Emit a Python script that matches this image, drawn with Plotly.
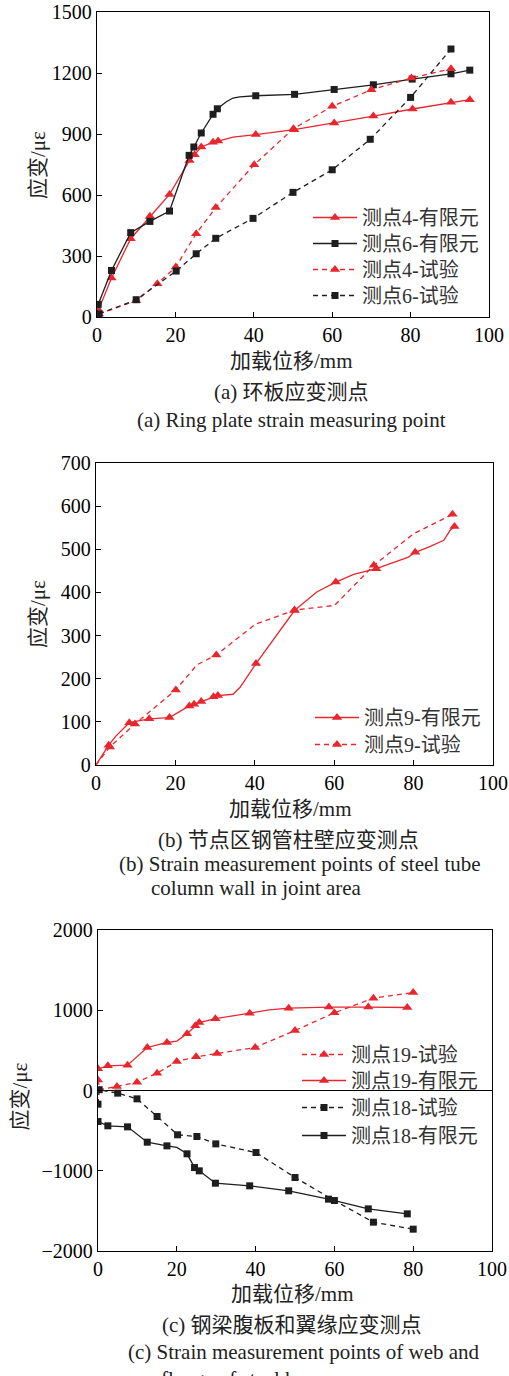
import plotly.graph_objects as go

W, H = 509, 1376
OFF = 0  # body margin is removed by the post script below
RED = "#e8262d"
BLK = "#1e1e1e"
FONT = "Liberation Serif, Noto Sans CJK SC"

# ---------------- Panel (a): ring plate ----------------
a_fe4_x = [0.4, 3.7, 8.6, 13.5, 18.5, 23.6, 24.9, 26.6, 29.6, 30.9, 34.7, 40.5, 50.3, 60.5, 70.5, 80.5, 90.3, 95.1]
a_fe4_y = [35, 192, 385, 495, 603, 770, 798, 836, 860, 865, 885, 897, 921, 954, 988, 1023, 1056, 1069]
a_fe4_m = [1, 1, 1, 1, 1, 1, 1, 1, 1, 1, 0, 1, 1, 1, 1, 1, 1, 1]

a_fe6_x = [0.3, 3.7, 8.6, 13.5, 18.5, 23.5, 24.7, 26.6, 29.6, 30.7, 33.0, 34.7, 36.4, 40.5, 50.4, 60.5, 70.5, 80.4, 90.3, 95.1]
a_fe6_y = [62, 229, 415, 470, 521, 795, 836, 905, 997, 1024, 1059, 1077, 1083, 1088, 1095, 1119, 1142, 1170, 1196, 1214]
a_fe6_m = [1, 1, 1, 1, 1, 1, 1, 1, 1, 1, 0, 0, 0, 1, 1, 1, 1, 1, 1, 1]

a_t4_x = [0.5, 10, 15.4, 20.1, 25.3, 30.3, 40.1, 50.1, 60, 70, 80.2, 90.3]
a_t4_y = [15, 80, 164, 246, 410, 538, 749, 926, 1036, 1118, 1175, 1221]
a_t4_m = [1] * 12

a_t6_x = [0.5, 10, 20.2, 25.3, 30.3, 39.8, 50, 60, 69.7, 80, 90.3]
a_t6_y = [15, 85, 226, 311, 387, 485, 613, 724, 874, 1080, 1318]
a_t6_m = [1] * 11

# ---------------- Panel (b): steel tube wall ----------------
b_fe_x = [0, 3.2, 5.0, 8.4, 13.4, 18.5, 23.5, 24.7, 26.5, 29.6, 30.7, 34.5, 36.3, 40.3, 50, 55.6, 60.4, 64.9, 70.6, 78.7, 80.4, 83.8, 87.6, 89.2, 90.3]
b_fe_y = [0, 46, 67, 98, 107, 110, 137, 141, 147, 158, 161, 164, 180, 235, 358, 401, 424, 442, 455, 482, 493, 505, 521, 544, 553]
b_fe_m = [0, 1, 0, 1, 1, 1, 1, 1, 1, 1, 1, 0, 0, 1, 1, 0, 1, 0, 1, 0, 1, 0, 0, 0, 1]

b_t_x = [0, 3.5, 9.8, 20.1, 25.4, 30.3, 40.1, 50, 60.1, 70, 80, 89.8]
b_t_y = [0, 42, 95, 174, 232, 255, 326, 359, 370, 463, 536, 581]
b_t_m = [0, 1, 1, 1, 0, 1, 0, 1, 0, 1, 0, 1]

# ---------------- Panel (c): beam web and flange ----------------
c_t19_x = [0, 0.5, 4.8, 9.9, 15, 20, 24.9, 30.2, 39.9, 50, 60, 69.9, 80]
c_t19_y = [130, 10, 50, 104, 216, 361, 420, 461, 536, 748, 968, 1151, 1221]
c_t19_m = [1, 0, 1, 1, 1, 1, 1, 1, 1, 1, 1, 1, 1]

c_fe19_x = [0, 2.5, 7.5, 12.5, 17.5, 20, 22.6, 24.7, 25.7, 29.8, 38.5, 43.5, 48.4, 58.6, 68.6, 78.5]
c_fe19_y = [270, 307, 316, 536, 598, 615, 706, 806, 847, 895, 964, 1005, 1026, 1039, 1039, 1034]
c_fe19_m = [1, 1, 1, 1, 1, 0, 1, 1, 1, 1, 1, 0, 1, 1, 1, 1]

c_t18_x = [0, 0.3, 5, 9.9, 15, 20.2, 25.1, 29.9, 40.1, 50, 60, 69.9, 80]
c_t18_y = [-170, 10, -33, -104, -324, -552, -573, -665, -773, -1084, -1371, -1641, -1728]
c_t18_m = [1] * 13

c_fe18_x = [0, 2.5, 7.5, 12.5, 17.5, 20, 22.6, 24.5, 25.7, 29.8, 38.5, 48.4, 58.5, 68.6, 78.5]
c_fe18_y = [-386, -440, -453, -644, -690, -710, -789, -960, -1001, -1155, -1188, -1250, -1354, -1475, -1537]
c_fe18_m = [1, 1, 1, 1, 1, 0, 1, 1, 1, 1, 1, 1, 1, 1, 1]

# name, x, y, mask, color, symbol, dash, axes suffix
series = [
    ("测点4-有限元", a_fe4_x, a_fe4_y, a_fe4_m, RED, "triangle-up", "solid", ""),
    ("测点6-有限元", a_fe6_x, a_fe6_y, a_fe6_m, BLK, "square", "solid", ""),
    ("测点4-试验", a_t4_x, a_t4_y, a_t4_m, RED, "triangle-up", "5px,4px", ""),
    ("测点6-试验", a_t6_x, a_t6_y, a_t6_m, BLK, "square", "5px,4px", ""),
    ("测点9-有限元", b_fe_x, b_fe_y, b_fe_m, RED, "triangle-up", "solid", "2"),
    ("测点9-试验", b_t_x, b_t_y, b_t_m, RED, "triangle-up", "5px,4px", "2"),
    ("测点19-试验", c_t19_x, c_t19_y, c_t19_m, RED, "triangle-up", "5px,4px", "3"),
    ("测点19-有限元", c_fe19_x, c_fe19_y, c_fe19_m, RED, "triangle-up", "solid", "3"),
    ("测点18-试验", c_t18_x, c_t18_y, c_t18_m, BLK, "square", "5px,4px", "3"),
    ("测点18-有限元", c_fe18_x, c_fe18_y, c_fe18_m, BLK, "square", "solid", "3"),
]

# legend entry placement (page pixels): text left edge, row centre
legend_pos = [(363, 215), (363, 241), (363, 267), (363, 293),
              (365, 715), (365, 742),
              (352, 1052), (352, 1078), (352, 1105), (352, 1133)]
ITEMW = 44


def px(p):
    return (p - OFF) / W


def py(p):
    return 1 - (p - OFF) / H


fig = go.Figure()
legends = {}
for i, (name, xs, ys, ms, col, sym, dash, ax) in enumerate(series):
    msize = 9 if sym == "triangle-up" else 7
    xa, ya = "x" + ax, "y" + ax
    lg = "legend" if i == 0 else "legend%d" % (i + 1)
    fig.add_trace(go.Scatter(x=xs, y=ys, mode="lines", line=dict(color=col, width=1.3, dash=dash),
                             xaxis=xa, yaxis=ya, showlegend=False, hoverinfo="skip"))
    mx = [x for x, m in zip(xs, ms) if m]
    my = [y for y, m in zip(ys, ms) if m]
    fig.add_trace(go.Scatter(x=mx, y=my, mode="markers", marker=dict(color=col, symbol=sym, size=msize),
                             xaxis=xa, yaxis=ya, showlegend=False, hoverinfo="skip"))
    fig.add_trace(go.Scatter(x=[None], y=[None], mode="lines+markers", name=name,
                             line=dict(color=col, width=1.3, dash=dash),
                             marker=dict(color=col, symbol=sym, size=msize),
                             xaxis=xa, yaxis=ya, legend=lg))
    tx, ty = legend_pos[i]
    legends[lg] = dict(x=px(tx - 11 - ITEMW), y=py(ty - 17), xanchor="left", yanchor="top",
                       bgcolor="rgba(0,0,0,0)", borderwidth=0, itemwidth=ITEMW,
                       font=dict(family=FONT, size=20, color="#333"))

tickfont = dict(family=FONT, size=20, color="black")
axcommon = dict(showline=True, linecolor="black", linewidth=1.3, mirror=True, ticks="inside",
                ticklen=5, tickwidth=1.2, tickcolor="black", showgrid=False, tickfont=tickfont,
                zeroline=False, ticklabeloverflow="allow")

fig.update_layout(
    width=W, height=H, margin=dict(l=0, r=0, t=0, b=0, autoexpand=False),
    paper_bgcolor="white", plot_bgcolor="white",
    font=dict(family=FONT, size=20, color="#222"),
    xaxis=dict(domain=[px(97), px(489)], range=[0, 100], dtick=20, anchor="y", **axcommon),
    yaxis=dict(domain=[py(317), py(12)], range=[0, 1500], dtick=300, anchor="x", **axcommon),
    xaxis2=dict(domain=[px(96), px(493)], range=[0, 100], dtick=20, anchor="y2", **axcommon),
    yaxis2=dict(domain=[py(765), py(463)], range=[0, 700], dtick=100, anchor="x2", **axcommon),
    xaxis3=dict(domain=[px(98), px(492)], range=[0, 100], dtick=20, anchor="y3", **axcommon),
    yaxis3=dict(domain=[py(1251), py(930)], range=[-2000, 2000], dtick=1000, anchor="x3",
                **{**axcommon, "zeroline": True}, zerolinecolor="black", zerolinewidth=1.3),
    **legends,
)


def note(text, x, y, size=21, xanchor="center", angle=0):
    fig.add_annotation(text=text, x=px(x), y=py(y), xref="paper", yref="paper", showarrow=False,
                       xanchor=xanchor, yanchor="middle", textangle=angle,
                       font=dict(family=FONT, size=size, color="#222"))


for yc in (165, 614):
    note("应变/με", 38, yc, angle=-90)
note("应变/με", 19.5, 1097, angle=-90)
note("加载位移/mm", 291, 361)
note("加载位移/mm", 290, 809)
note("加载位移/mm", 292, 1294)
note("(a) 环板应变测点", 291, 392)
note("(a) Ring plate strain measuring point", 291, 420)
note("(b) 节点区钢管柱壁应变测点", 288, 840)
note("(b) Strain measurement points of steel tube", 117, 864, xanchor="left")
note("column wall in joint area", 149, 888, xanchor="left")
note("(c) 钢梁腹板和翼缘应变测点", 292, 1325)
note("(c) Strain measurement points of web and", 126, 1352, xanchor="left")
note("flange of steel beam", 159, 1379, xanchor="left")

fig.write_html("out.html", config={"displayModeBar": False},
               post_script="document.body.style.margin='0px';")
